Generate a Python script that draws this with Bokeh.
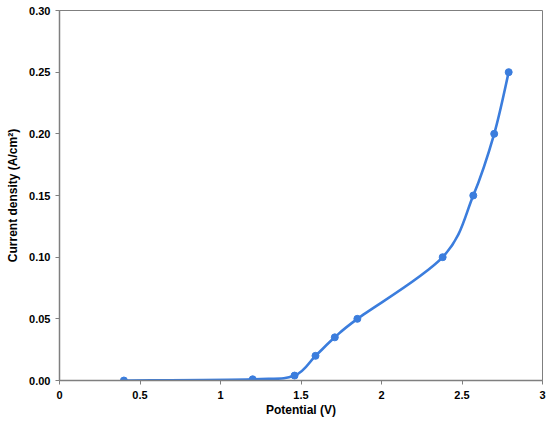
import numpy as np
from bokeh.plotting import figure
from bokeh.models import ColumnDataSource, FixedTicker, CustomJSTickFormatter
from bokeh.embed import file_html
from bokeh.resources import INLINE

potential = [0.40, 1.20, 1.46, 1.59, 1.71, 1.85, 2.38, 2.57, 2.70, 2.79]
current = [0.000, 0.001, 0.004, 0.020, 0.035, 0.050, 0.100, 0.150, 0.200, 0.250]
x_ticks = [0, 0.5, 1, 1.5, 2, 2.5, 3]
y_ticks = [0.00, 0.05, 0.10, 0.15, 0.20, 0.25, 0.30]

COLOR = "#3b7ddd"
FONT = "Liberation Sans"

p = figure(frame_width=483, frame_height=370, x_range=(0, 3), y_range=(0, 0.30),
           output_backend="svg", toolbar_location=None,
           min_border_left=59, min_border_top=10, min_border_right=6, min_border_bottom=38)
p.xgrid.visible = False
p.ygrid.visible = False
p.outline_line_color = "#7f7f7f"
p.outline_line_width = 1
p.background_fill_color = "white"

# smooth curve (Catmull-Rom as Bezier segments) through the points
P = np.column_stack([potential, current])
n = len(P)
ext = np.vstack([P[0], P, P[-1]])
x0, y0, x1, y1, cx0, cy0, cx1, cy1 = [], [], [], [], [], [], [], []
for i in range(n - 1):
    pm, pa, pb, pp = ext[i], ext[i + 1], ext[i + 2], ext[i + 3]
    c0 = pa + (pb - pm) / 6.0
    c1 = pb - (pp - pa) / 6.0
    x0.append(pa[0]); y0.append(pa[1]); x1.append(pb[0]); y1.append(pb[1])
    cx0.append(c0[0]); cy0.append(c0[1]); cx1.append(c1[0]); cy1.append(c1[1])
bsrc = ColumnDataSource(dict(x0=x0, y0=y0, x1=x1, y1=y1, cx0=cx0, cy0=cy0, cx1=cx1, cy1=cy1))
p.bezier(x0="x0", y0="y0", x1="x1", y1="y1", cx0="cx0", cy0="cy0", cx1="cx1", cy1="cy1",
         source=bsrc, line_color=COLOR, line_width=2.6)
p.scatter(potential, current, size=7, fill_color=COLOR, line_color=COLOR)

p.xaxis.ticker = FixedTicker(ticks=x_ticks)
p.yaxis.ticker = FixedTicker(ticks=y_ticks)
p.yaxis.formatter = CustomJSTickFormatter(code="return tick.toFixed(2);")
p.xaxis.formatter = CustomJSTickFormatter(code="return String(Math.round(tick*10)/10);")

for ax in (p.xaxis[0], p.yaxis[0]):
    ax.axis_line_color = "#7f7f7f"
    ax.axis_line_width = 1.5
    ax.major_tick_line_color = "#7f7f7f"
    ax.major_tick_out = 4
    ax.major_tick_in = 0
    ax.minor_tick_line_color = None
    ax.major_label_text_font = FONT
    ax.major_label_text_font_style = "bold"
    ax.major_label_text_font_size = "11px"
    ax.major_label_text_color = "black"
    ax.axis_label_text_font = FONT
    ax.axis_label_text_font_style = "bold"
    ax.axis_label_text_font_size = "12px"
    ax.axis_label_text_color = "black"

p.xaxis.axis_label = "Potential (V)"
p.yaxis.axis_label = "Current density (A/cm²)"
p.xaxis.major_label_standoff = 6
p.xaxis.axis_label_standoff = 1
p.yaxis.major_label_standoff = 5
p.yaxis.axis_label_standoff = 6

open("out.html", "w").write(file_html(p, INLINE))
